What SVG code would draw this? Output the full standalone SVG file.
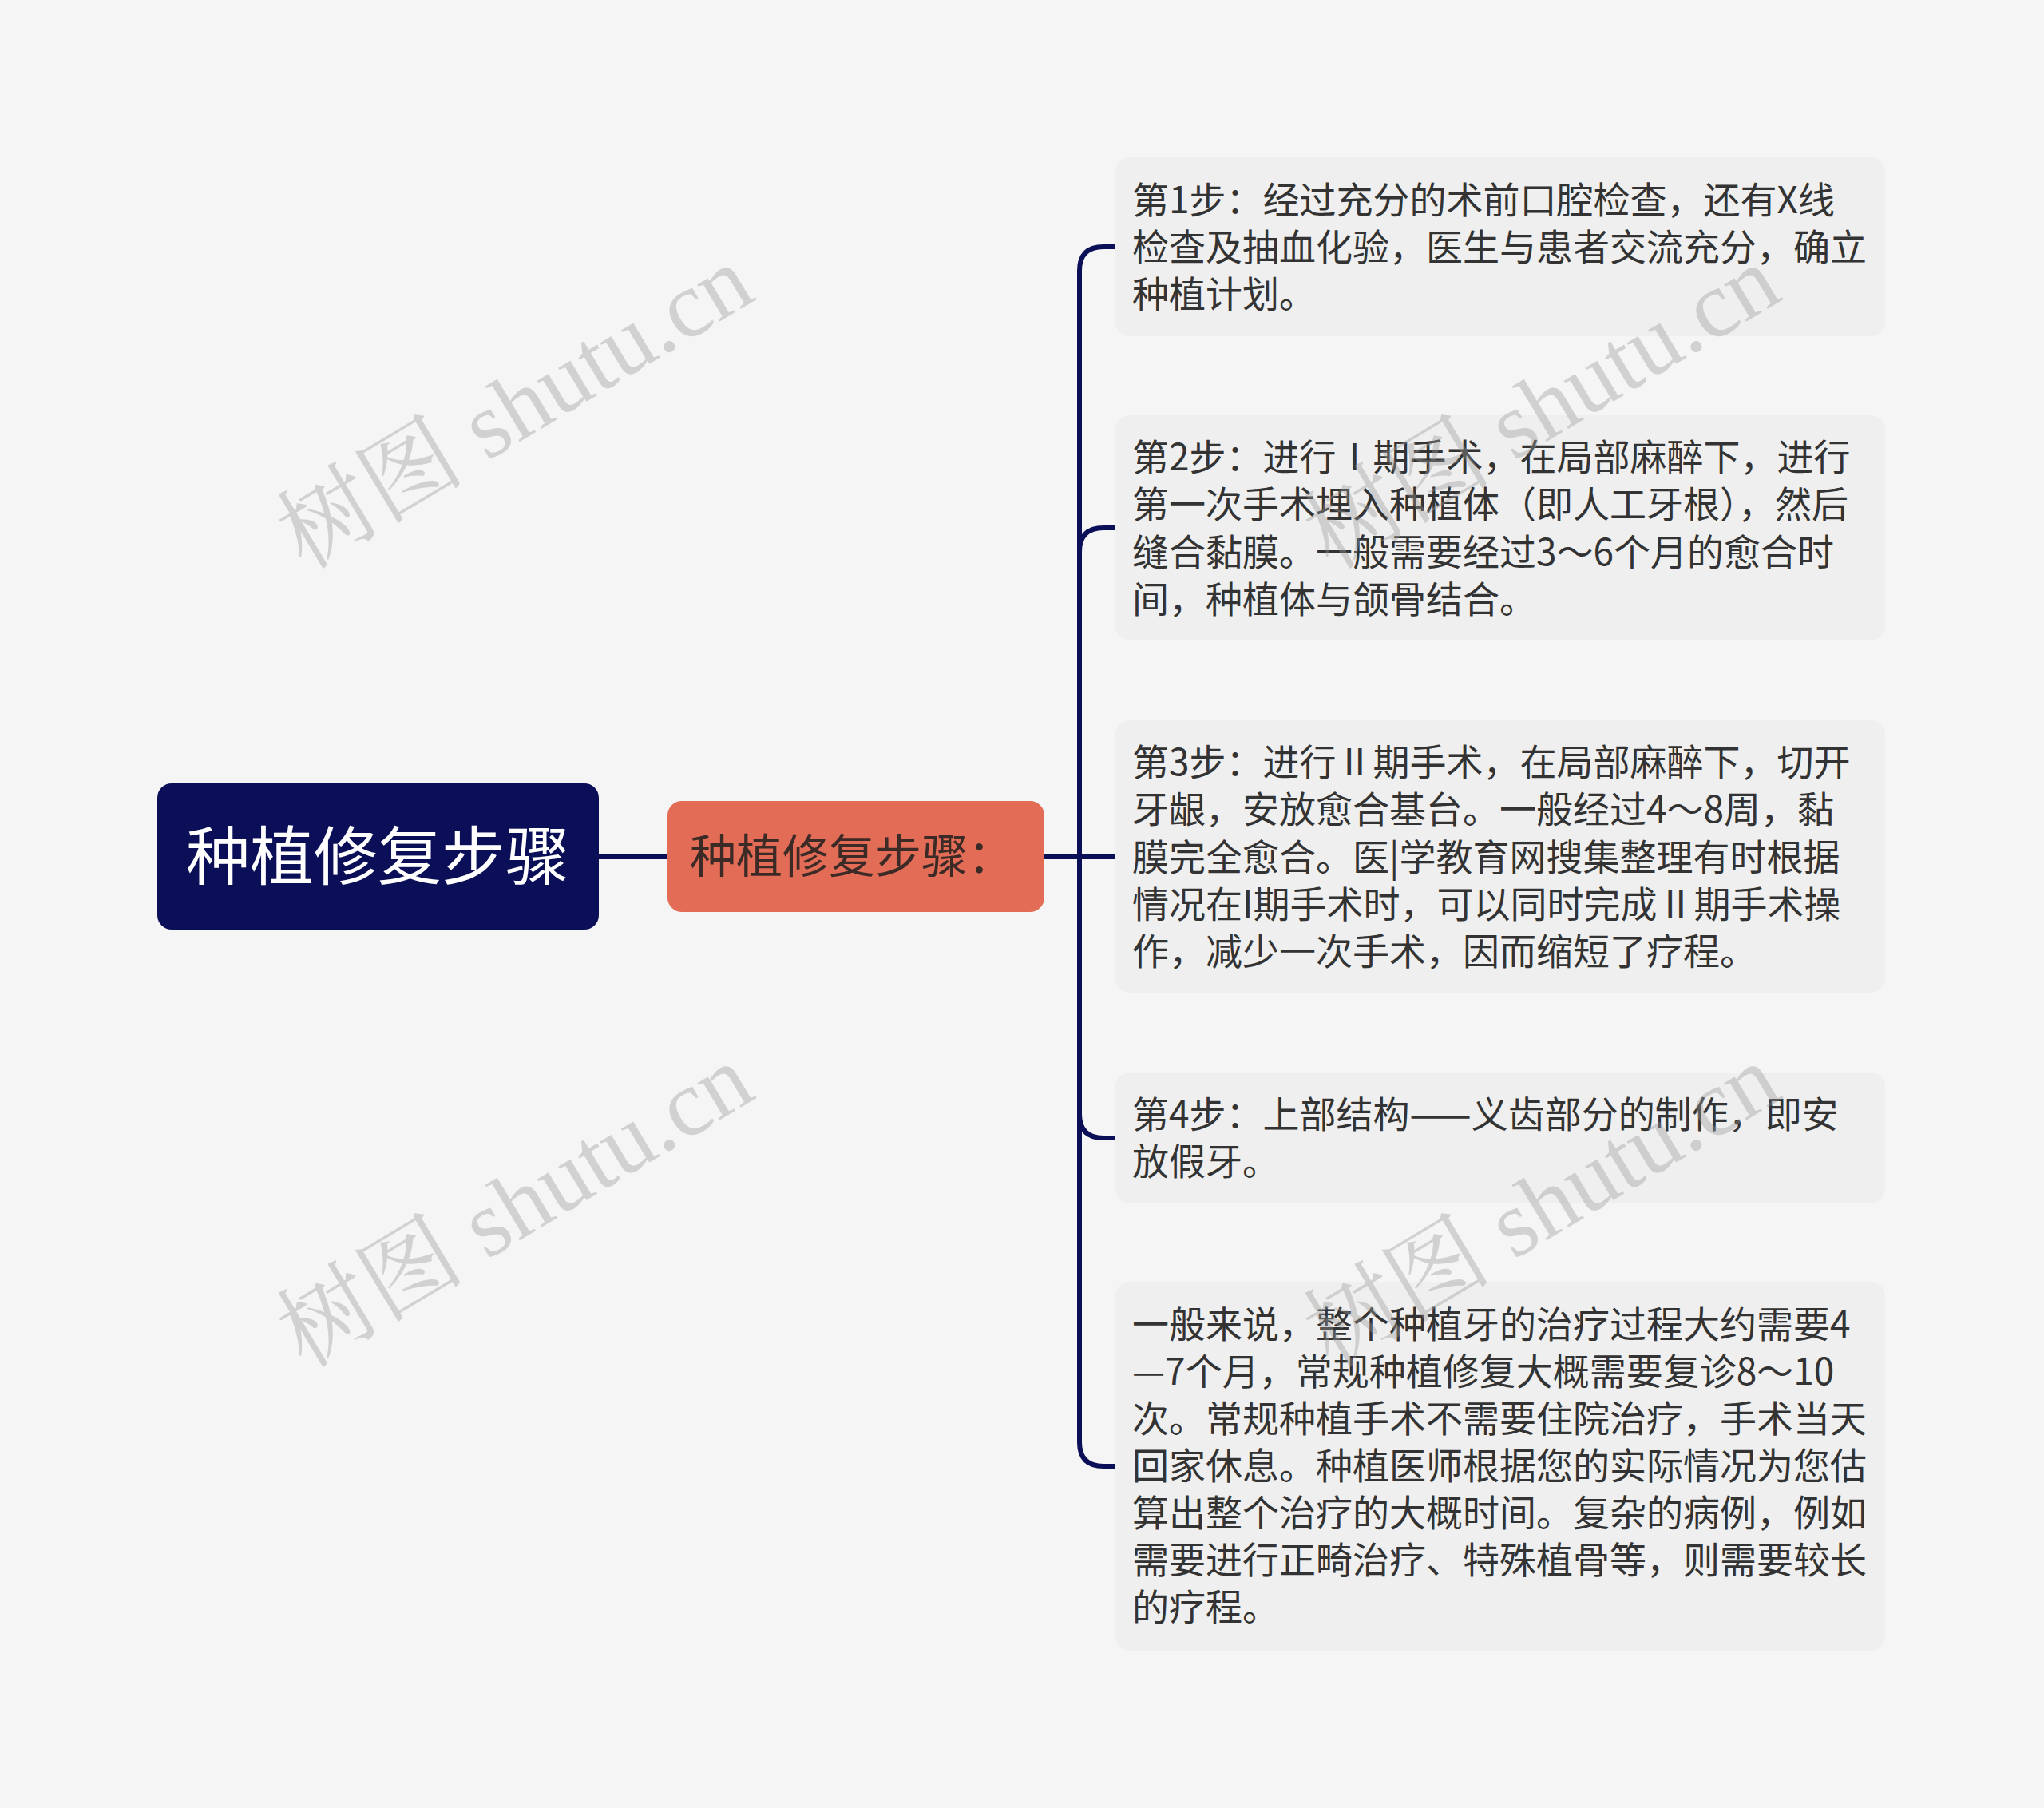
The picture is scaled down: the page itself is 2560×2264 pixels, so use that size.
<svg xmlns="http://www.w3.org/2000/svg" width="2560" height="2264" viewBox="0 0 2560 2264">
<style>
.bg{fill:#F5F5F5}
.child{fill:#EFEFEF}
.ct{font-family:"Noto Sans CJK SC","Noto Sans",sans-serif;font-size:46px;fill:#333333}
.edge{fill:none;stroke:#0B0F57;stroke-width:6;stroke-linecap:round}
.wm{font-family:"Liberation Serif","Noto Serif CJK SC","Noto Sans CJK SC",serif;font-size:118px;fill:#999999;opacity:0.38}
</style>
<rect class="bg" x="0" y="0" width="2560" height="2264"/>
<g id="connectors">
<path class="edge" d="M750 1073 H836"/>
<path class="edge" d="M1309 1073 H1352"/>
<path class="edge" d="M1352 1073 V339 Q1352 309 1382 309 H1396"/>
<path class="edge" d="M1352 1073 V691 Q1352 661 1382 661 H1396"/>
<path class="edge" d="M1352 1073 H1396"/>
<path class="edge" d="M1352 1073 V1395 Q1352 1425 1382 1425 H1396"/>
<path class="edge" d="M1352 1073 V1806 Q1352 1836 1382 1836 H1396"/>
</g>
<g id="root">
<rect x="197" y="981" width="553" height="183" rx="18" fill="#0B0F57"/>
<text x="473" y="1101" text-anchor="middle" font-family="'Noto Sans CJK SC','Noto Sans',sans-serif" font-size="80" fill="#FFFFFF">种植修复步骤</text>
</g>
<g id="main">
<rect x="836" y="1003" width="472" height="139" rx="18" fill="#E36C57"/>
<text x="864" y="1093" font-family="'Noto Sans CJK SC','Noto Sans',sans-serif" font-size="58" fill="#3B2A26">种植修复步骤：</text>
</g>
<g id="step1">
<rect class="child" x="1397" y="197" width="964" height="224" rx="18"/>
<text class="ct" x="1418" y="267">第1步：经过充分的术前口腔检查，还有X线</text>
<text class="ct" x="1418" y="326">检查及抽血化验，医生与患者交流充分，确立</text>
<text class="ct" x="1418" y="385">种植计划。</text>
</g>
<g id="step2">
<rect class="child" x="1397" y="520" width="964" height="282" rx="18"/>
<text class="ct" x="1418" y="589">第2步：进行Ⅰ期手术，在局部麻醉下，进行</text>
<text class="ct" x="1418" y="648">第一次手术埋入种植体（即人工牙根），然后</text>
<text class="ct" x="1418" y="708">缝合黏膜。一般需要经过3～6个月的愈合时</text>
<text class="ct" x="1418" y="767">间，种植体与颌骨结合。</text>
</g>
<g id="step3">
<rect class="child" x="1397" y="902" width="964" height="341" rx="18"/>
<text class="ct" x="1418" y="971">第3步：进行Ⅱ期手术，在局部麻醉下，切开</text>
<text class="ct" x="1418" y="1030">牙龈，安放愈合基台。一般经过4～8周，黏</text>
<text class="ct" x="1418" y="1090">膜完全愈合。医|学教育网搜集整理有时根据</text>
<text class="ct" x="1418" y="1149">情况在I期手术时，可以同时完成Ⅱ期手术操</text>
<text class="ct" x="1418" y="1208">作，减少一次手术，因而缩短了疗程。</text>
</g>
<g id="step4">
<rect class="child" x="1397" y="1343" width="964" height="164" rx="18"/>
<text class="ct" x="1418" y="1412">第4步：上部结构——义齿部分的制作，即安</text>
<text class="ct" x="1418" y="1471">放假牙。</text>
</g>
<g id="summary">
<rect class="child" x="1397" y="1605" width="964" height="462" rx="18"/>
<text class="ct" x="1418" y="1675">一般来说，整个种植牙的治疗过程大约需要4</text>
<text class="ct" x="1418" y="1734">—7个月，常规种植修复大概需要复诊8～10</text>
<text class="ct" x="1418" y="1793">次。常规种植手术不需要住院治疗，手术当天</text>
<text class="ct" x="1418" y="1852">回家休息。种植医师根据您的实际情况为您估</text>
<text class="ct" x="1418" y="1911">算出整个治疗的大概时间。复杂的病例，例如</text>
<text class="ct" x="1418" y="1970">需要进行正畸治疗、特殊植骨等，则需要较长</text>
<text class="ct" x="1418" y="2029">的疗程。</text>
</g>
<g id="watermarks">
<text class="wm" x="645" y="550" text-anchor="middle" transform="rotate(-31 645 510)">树图 shutu.cn</text>
<text class="wm" x="645" y="1550" text-anchor="middle" transform="rotate(-31 645 1510)">树图 shutu.cn</text>
<text class="wm" x="1931" y="550" text-anchor="middle" transform="rotate(-31 1931 510)">树图 shutu.cn</text>
<text class="wm" x="1931" y="1550" text-anchor="middle" transform="rotate(-31 1931 1510)">树图 shutu.cn</text>
</g>
</svg>
